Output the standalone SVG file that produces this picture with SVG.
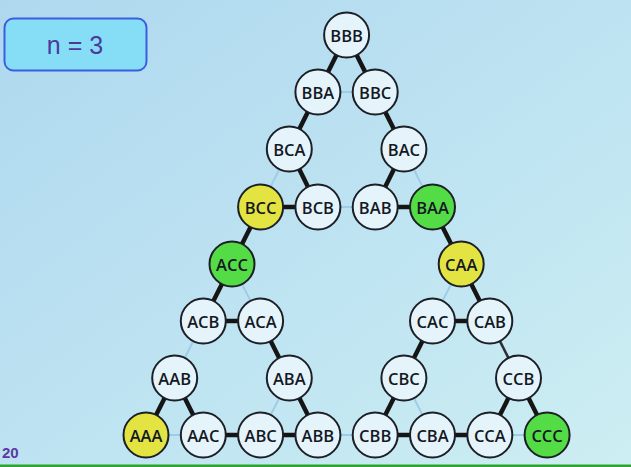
<svg xmlns="http://www.w3.org/2000/svg" width="631" height="467" viewBox="0 0 631 467">
<defs>
<linearGradient id="bg" x1="0" y1="0" x2="1" y2="1">
<stop offset="0" stop-color="#afd8ef"/>
<stop offset="0.6" stop-color="#c0e5f2"/>
<stop offset="1" stop-color="#cdeef2"/>
</linearGradient>
<style>
.thick{stroke:#151515;stroke-width:4.5;stroke-linecap:butt}
.thin{stroke:#9dcbe8;stroke-width:1.8}
.mid{stroke:#2a2f38;stroke-width:2.5}
.n ellipse{stroke:#1c1f26;stroke-width:2;fill:#e4f4fa}
.n.y ellipse{fill:#e3e442}
.n.g ellipse{fill:#54dc46}
.n text{font-family:"Open Sans",sans-serif;font-weight:600;font-size:16.5px;fill:#141824;text-anchor:middle;dominant-baseline:central}
</style>
</defs>
<rect width="631" height="467" fill="url(#bg)"/>
<rect x="0" y="464.5" width="631" height="2.5" fill="#2fa22f"/>
<g id="label-n">
<rect x="4.5" y="18.5" width="142" height="52" rx="9" fill="#86def6" stroke="#3b5ee0" stroke-width="2"/>
<text x="75" y="54" font-family="Liberation Sans Narrow, Liberation Sans, sans-serif" font-size="25" fill="#4b3a9c" text-anchor="middle">n = 3</text>
</g>
<text id="page" x="2" y="458" font-family="Liberation Sans, sans-serif" font-size="15" font-weight="bold" fill="#5a3aa2">20</text>
<g id="connectors">
<line class="thick" x1="346.6" y1="35" x2="317.9" y2="92"/>
<line class="thick" x1="346.6" y1="35" x2="375.2" y2="92"/>
<line class="thin" x1="317.9" y1="92" x2="375.2" y2="92"/>
<line class="thick" x1="317.9" y1="92" x2="289.3" y2="149"/>
<line class="thick" x1="375.2" y1="92" x2="403.9" y2="149"/>
<line class="thin" x1="289.3" y1="149" x2="260.6" y2="207"/>
<line class="thick" x1="289.3" y1="149" x2="317.9" y2="207"/>
<line class="thick" x1="260.6" y1="207" x2="317.9" y2="207"/>
<line class="thick" x1="403.9" y1="149" x2="375.2" y2="207"/>
<line class="thin" x1="403.9" y1="149" x2="432.5" y2="207"/>
<line class="thick" x1="375.2" y1="207" x2="432.5" y2="207"/>
<line class="thin" x1="317.9" y1="207" x2="375.2" y2="207"/>
<line class="thick" x1="260.6" y1="207" x2="232" y2="264"/>
<line class="thick" x1="432.5" y1="207" x2="461.2" y2="264"/>
<line class="thick" x1="232" y1="264" x2="203.3" y2="321"/>
<line class="thin" x1="232" y1="264" x2="260.6" y2="321"/>
<line class="thick" x1="203.3" y1="321" x2="260.6" y2="321"/>
<line class="thin" x1="461.2" y1="264" x2="432.5" y2="321"/>
<line class="thick" x1="461.2" y1="264" x2="489.8" y2="321"/>
<line class="thick" x1="432.5" y1="321" x2="489.8" y2="321"/>
<line class="thin" x1="203.3" y1="321" x2="174.7" y2="378"/>
<line class="thick" x1="260.6" y1="321" x2="289.3" y2="378"/>
<line class="thick" x1="432.5" y1="321" x2="403.9" y2="378"/>
<line class="mid" x1="489.8" y1="321" x2="518.5" y2="378"/>
<line class="thick" x1="174.7" y1="378" x2="146" y2="435"/>
<line class="thick" x1="174.7" y1="378" x2="203.3" y2="435"/>
<line class="thin" x1="146" y1="435" x2="203.3" y2="435"/>
<line class="thin" x1="289.3" y1="378" x2="260.6" y2="435"/>
<line class="thick" x1="289.3" y1="378" x2="317.9" y2="435"/>
<line class="thick" x1="260.6" y1="435" x2="317.9" y2="435"/>
<line class="thick" x1="203.3" y1="435" x2="260.6" y2="435"/>
<line class="thin" x1="317.9" y1="435" x2="375.2" y2="435"/>
<line class="thick" x1="403.9" y1="378" x2="375.2" y2="435"/>
<line class="thin" x1="403.9" y1="378" x2="432.5" y2="435"/>
<line class="thick" x1="375.2" y1="435" x2="432.5" y2="435"/>
<line class="thick" x1="432.5" y1="435" x2="489.8" y2="435"/>
<line class="thick" x1="518.5" y1="378" x2="489.8" y2="435"/>
<line class="thick" x1="518.5" y1="378" x2="547.1" y2="435"/>
<line class="thin" x1="489.8" y1="435" x2="547.1" y2="435"/>
</g>
<g id="BBB" class="n"><ellipse cx="346.6" cy="35" rx="22.5" ry="22.5"/><text x="346.6" y="35">BBB</text></g>
<g id="BBA" class="n"><ellipse cx="317.9" cy="92" rx="22.5" ry="22.5"/><text x="317.9" y="92">BBA</text></g>
<g id="BBC" class="n"><ellipse cx="375.2" cy="92" rx="22.5" ry="22.5"/><text x="375.2" y="92">BBC</text></g>
<g id="BCA" class="n"><ellipse cx="289.3" cy="149" rx="22.5" ry="22.5"/><text x="289.3" y="149">BCA</text></g>
<g id="BAC" class="n"><ellipse cx="403.9" cy="149" rx="22.5" ry="22.5"/><text x="403.9" y="149">BAC</text></g>
<g id="BCC" class="n y"><ellipse cx="260.6" cy="207" rx="22.5" ry="22.5"/><text x="260.6" y="207">BCC</text></g>
<g id="BCB" class="n"><ellipse cx="317.9" cy="207" rx="22.5" ry="22.5"/><text x="317.9" y="207">BCB</text></g>
<g id="BAB" class="n"><ellipse cx="375.2" cy="207" rx="22.5" ry="22.5"/><text x="375.2" y="207">BAB</text></g>
<g id="BAA" class="n g"><ellipse cx="432.5" cy="207" rx="22.5" ry="22.5"/><text x="432.5" y="207">BAA</text></g>
<g id="ACC" class="n g"><ellipse cx="232" cy="264" rx="22.5" ry="22.5"/><text x="232" y="264">ACC</text></g>
<g id="CAA" class="n y"><ellipse cx="461.2" cy="264" rx="22.5" ry="22.5"/><text x="461.2" y="264">CAA</text></g>
<g id="ACB" class="n"><ellipse cx="203.3" cy="321" rx="22.5" ry="22.5"/><text x="203.3" y="321">ACB</text></g>
<g id="ACA" class="n"><ellipse cx="260.6" cy="321" rx="22.5" ry="22.5"/><text x="260.6" y="321">ACA</text></g>
<g id="CAC" class="n"><ellipse cx="432.5" cy="321" rx="22.5" ry="22.5"/><text x="432.5" y="321">CAC</text></g>
<g id="CAB" class="n"><ellipse cx="489.8" cy="321" rx="22.5" ry="22.5"/><text x="489.8" y="321">CAB</text></g>
<g id="AAB" class="n"><ellipse cx="174.7" cy="378" rx="22.5" ry="22.5"/><text x="174.7" y="378">AAB</text></g>
<g id="ABA" class="n"><ellipse cx="289.3" cy="378" rx="22.5" ry="22.5"/><text x="289.3" y="378">ABA</text></g>
<g id="CBC" class="n"><ellipse cx="403.9" cy="378" rx="22.5" ry="22.5"/><text x="403.9" y="378">CBC</text></g>
<g id="CCB" class="n"><ellipse cx="518.5" cy="378" rx="22.5" ry="22.5"/><text x="518.5" y="378">CCB</text></g>
<g id="AAA" class="n y"><ellipse cx="146" cy="435" rx="22.5" ry="22.5"/><text x="146" y="435">AAA</text></g>
<g id="AAC" class="n"><ellipse cx="203.3" cy="435" rx="22.5" ry="22.5"/><text x="203.3" y="435">AAC</text></g>
<g id="ABC" class="n"><ellipse cx="260.6" cy="435" rx="22.5" ry="22.5"/><text x="260.6" y="435">ABC</text></g>
<g id="ABB" class="n"><ellipse cx="317.9" cy="435" rx="22.5" ry="22.5"/><text x="317.9" y="435">ABB</text></g>
<g id="CBB" class="n"><ellipse cx="375.2" cy="435" rx="22.5" ry="22.5"/><text x="375.2" y="435">CBB</text></g>
<g id="CBA" class="n"><ellipse cx="432.5" cy="435" rx="22.5" ry="22.5"/><text x="432.5" y="435">CBA</text></g>
<g id="CCA" class="n"><ellipse cx="489.8" cy="435" rx="22.5" ry="22.5"/><text x="489.8" y="435">CCA</text></g>
<g id="CCC" class="n g"><ellipse cx="547.1" cy="435" rx="22.5" ry="22.5"/><text x="547.1" y="435">CCC</text></g>
</svg>
